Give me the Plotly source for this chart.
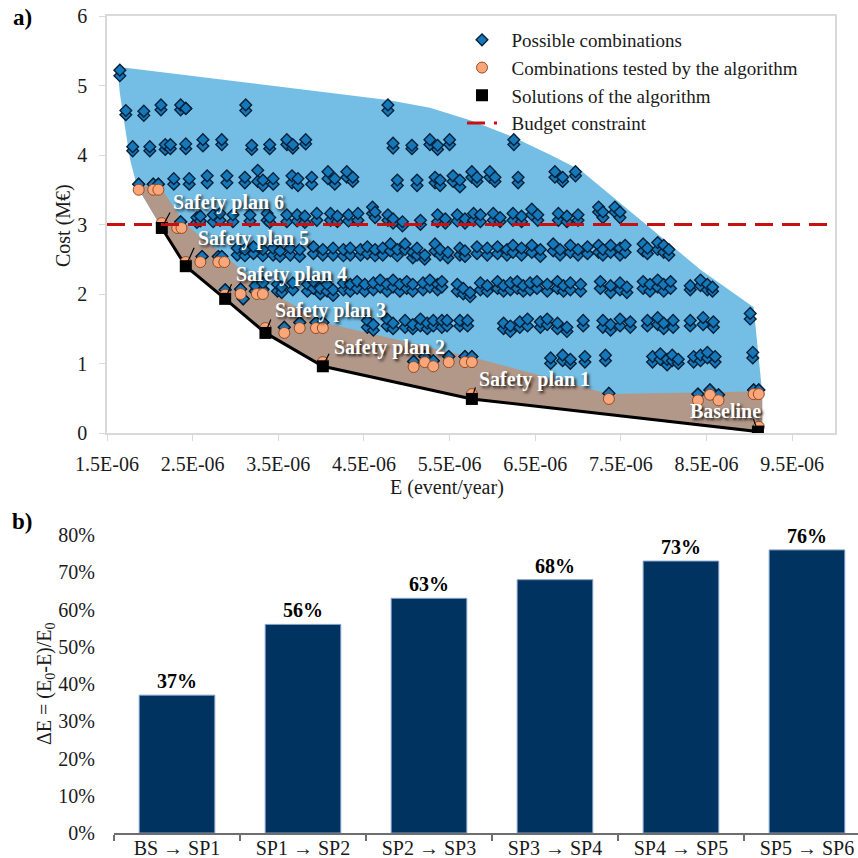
import plotly.graph_objects as go

FONT = "Liberation Serif"
E_UNIT = 1e-6  # E values below are written in units of 1E-06 event/year

# ---------------- panel a) data ----------------
x_ticks = [1.5, 2.5, 3.5, 4.5, 5.5, 6.5, 7.5, 8.5, 9.5]
x_tick_labels = ["1.5E-06", "2.5E-06", "3.5E-06", "4.5E-06", "5.5E-06",
                 "6.5E-06", "7.5E-06", "8.5E-06", "9.5E-06"]
x_range = [1.5, 10.0]
y_ticks = [0, 1, 2, 3, 4, 5, 6]
y_range = [0, 6]
budget = 3.0

# stacks of possible combinations: (E, cost of upper marker, cost of lower marker)
row_5_2 = [(1.65, 5.22, 5.14)]
row_4_6 = [(1.72, 4.64, 4.58), (1.93, 4.63, 4.57), (2.13, 4.72, 4.65), (2.36, 4.72, 4.65),
           (2.42, 4.67, 4.67), (3.12, 4.72, 4.64), (4.78, 4.72, 4.64)]
row_4_1 = [(1.80, 4.12, 4.06), (2.00, 4.12, 4.06), (2.18, 4.15, 4.08), (2.24, 4.15, 4.09),
           (2.42, 4.16, 4.09), (2.62, 4.22, 4.13), (2.84, 4.22, 4.15), (3.19, 4.14, 4.08),
           (3.40, 4.15, 4.09), (3.60, 4.22, 4.15), (3.67, 4.15, 4.10), (3.82, 4.22, 4.16),
           (4.84, 4.17, 4.10), (5.06, 4.14, 4.09), (5.27, 4.22, 4.15), (5.36, 4.14, 4.08),
           (5.50, 4.22, 4.15), (6.25, 4.22, 4.15)]
row_3_6 = [(1.87, 3.58, 3.58), (2.04, 3.58, 3.58), (2.10, 3.58, 3.58),
           (2.28, 3.66, 3.58), (2.46, 3.66, 3.58), (2.67, 3.70, 3.60), (2.90, 3.70, 3.60),
           (3.11, 3.68, 3.60), (3.26, 3.78, 3.62), (3.32, 3.64, 3.56), (3.44, 3.66, 3.58),
           (3.66, 3.70, 3.60), (3.73, 3.66, 3.56), (3.89, 3.68, 3.58), (4.08, 3.76, 3.66),
           (4.16, 3.66, 3.58), (4.30, 3.76, 3.68), (4.37, 3.68, 3.62), (4.89, 3.64, 3.56),
           (5.12, 3.64, 3.56), (5.33, 3.68, 3.60), (5.39, 3.64, 3.56), (5.54, 3.70, 3.62),
           (5.62, 3.64, 3.54), (5.76, 3.76, 3.68), (5.82, 3.68, 3.62), (5.97, 3.76, 3.68),
           (6.03, 3.68, 3.62), (6.30, 3.68, 3.60), (6.73, 3.76, 3.68), (6.82, 3.68, 3.62),
           (6.97, 3.76, 3.70)]
row_3_1 = [(2.36, 3.04, 3.04), (2.55, 3.10, 3.03), (2.59, 3.12, 3.05), (2.74, 3.14, 3.04),
           (2.82, 3.16, 3.06), (2.97, 3.14, 3.04), (3.17, 3.14, 3.05), (3.37, 3.16, 3.06),
           (3.40, 3.10, 3.03), (3.60, 3.14, 3.04), (3.72, 3.14, 3.05), (3.81, 3.12, 3.03),
           (3.95, 3.16, 3.06), (4.11, 3.16, 3.06), (4.19, 3.12, 3.04), (4.32, 3.14, 3.05),
           (4.43, 3.16, 3.06), (4.60, 3.25, 3.16), (4.63, 3.18, 3.10), (4.78, 3.14, 3.06),
           (4.84, 3.08, 3.02), (4.95, 3.04, 2.98), (5.16, 3.06, 3.00), (5.36, 3.14, 3.04),
           (5.45, 3.08, 3.02), (5.59, 3.14, 3.05), (5.68, 3.08, 3.02), (5.78, 3.16, 3.06),
           (5.86, 3.14, 3.04), (6.01, 3.16, 3.06), (6.09, 3.10, 3.04), (6.24, 3.16, 3.06),
           (6.34, 3.12, 3.04), (6.46, 3.22, 3.14), (6.53, 3.14, 3.06), (6.77, 3.16, 3.06),
           (6.87, 3.12, 3.04), (7.00, 3.14, 3.06), (7.24, 3.25, 3.18), (7.29, 3.18, 3.10),
           (7.43, 3.25, 3.18), (7.49, 3.18, 3.10)]
row_2_6 = [(2.61, 2.54, 2.54), (2.80, 2.54, 2.54), (2.84, 2.54, 2.54),
           (3.02, 2.66, 2.56), (3.11, 2.64, 2.55), (3.21, 2.68, 2.58), (3.32, 2.64, 2.55),
           (3.44, 2.66, 2.56), (3.52, 2.62, 2.54), (3.64, 2.66, 2.56), (3.75, 2.64, 2.54),
           (3.91, 2.68, 2.58), (4.02, 2.64, 2.56), (4.14, 2.66, 2.56), (4.26, 2.64, 2.55),
           (4.34, 2.66, 2.56), (4.46, 2.64, 2.56), (4.54, 2.68, 2.58), (4.63, 2.64, 2.55),
           (4.72, 2.66, 2.56), (4.81, 2.72, 2.62), (4.89, 2.64, 2.55), (4.98, 2.72, 2.64),
           (5.07, 2.60, 2.52), (5.12, 2.66, 2.56), (5.21, 2.56, 2.50), (5.33, 2.72, 2.62),
           (5.39, 2.64, 2.56), (5.48, 2.60, 2.52), (5.62, 2.66, 2.56), (5.68, 2.62, 2.54),
           (5.82, 2.68, 2.58), (5.94, 2.66, 2.56), (6.06, 2.68, 2.58), (6.17, 2.64, 2.56),
           (6.24, 2.70, 2.60), (6.34, 2.66, 2.56), (6.46, 2.70, 2.60), (6.56, 2.64, 2.54),
           (6.71, 2.72, 2.62), (6.79, 2.64, 2.56), (6.91, 2.70, 2.60), (7.00, 2.64, 2.56),
           (7.11, 2.68, 2.58), (7.24, 2.70, 2.60), (7.29, 2.64, 2.56), (7.38, 2.70, 2.60),
           (7.49, 2.66, 2.56), (7.55, 2.70, 2.60), (7.76, 2.72, 2.62), (7.81, 2.66, 2.58),
           (7.93, 2.74, 2.64), (8.00, 2.70, 2.60), (8.06, 2.64, 2.56)]
row_2_1 = [(2.88, 2.06, 2.06), (3.06, 2.07, 2.07), (3.09, 1.93, 1.93), (3.25, 2.07, 2.07),
           (3.32, 2.07, 2.07),
           (3.23, 2.12, 2.04), (3.32, 2.16, 2.06), (3.49, 2.14, 2.04), (3.54, 2.10, 2.02),
           (3.67, 2.16, 2.06), (3.84, 2.14, 2.04), (3.91, 2.18, 2.08), (3.99, 2.08, 2.00),
           (4.07, 2.14, 2.04), (4.14, 2.06, 1.98), (4.26, 2.16, 2.06), (4.34, 2.14, 2.04),
           (4.42, 2.18, 2.08), (4.51, 2.14, 2.04), (4.61, 2.16, 2.06), (4.69, 2.20, 2.10),
           (4.77, 2.14, 2.04), (4.84, 2.20, 2.10), (4.92, 2.14, 2.04), (5.00, 2.18, 2.08),
           (5.07, 2.14, 2.04), (5.19, 2.16, 2.06), (5.27, 2.20, 2.10), (5.36, 2.14, 2.06),
           (5.41, 2.18, 2.10), (5.59, 2.14, 2.04), (5.66, 2.08, 2.00), (5.74, 2.02, 1.96),
           (5.86, 2.16, 2.06), (5.94, 2.12, 2.04), (6.06, 2.18, 2.08), (6.13, 2.12, 2.04),
           (6.21, 2.16, 2.06), (6.29, 2.18, 2.08), (6.36, 2.12, 2.04), (6.44, 2.16, 2.06),
           (6.52, 2.18, 2.08), (6.64, 2.14, 2.04), (6.76, 2.18, 2.08), (6.83, 2.12, 2.04),
           (6.91, 2.16, 2.06), (7.03, 2.14, 2.04), (7.26, 2.18, 2.08), (7.38, 2.12, 2.02),
           (7.49, 2.16, 2.06), (7.57, 2.10, 2.02), (7.76, 2.18, 2.08), (7.84, 2.14, 2.04),
           (7.93, 2.20, 2.10), (8.00, 2.14, 2.04), (8.08, 2.18, 2.08), (8.31, 2.12, 2.06),
           (8.43, 2.20, 2.12), (8.51, 2.14, 2.06), (8.57, 2.10, 2.04)]
row_1_6 = [(3.57, 1.52, 1.52), (3.75, 1.59, 1.59), (3.94, 1.59, 1.59), (4.02, 1.59, 1.59),
           (4.54, 1.62, 1.52), (4.61, 1.56, 1.48), (4.77, 1.64, 1.54), (4.84, 1.58, 1.50),
           (4.98, 1.62, 1.52), (5.07, 1.56, 1.50), (5.16, 1.64, 1.54), (5.24, 1.58, 1.50),
           (5.31, 1.62, 1.54), (5.41, 1.62, 1.52), (5.47, 1.62, 1.54), (5.62, 1.62, 1.54),
           (5.71, 1.62, 1.54), (6.13, 1.58, 1.50), (6.21, 1.54, 1.46), (6.32, 1.60, 1.52),
           (6.41, 1.64, 1.54), (6.56, 1.60, 1.52), (6.64, 1.64, 1.56), (6.76, 1.58, 1.50),
           (6.87, 1.52, 1.46), (7.06, 1.62, 1.54), (7.29, 1.62, 1.52), (7.38, 1.56, 1.48),
           (7.49, 1.64, 1.54), (7.61, 1.60, 1.52), (7.81, 1.62, 1.54), (7.93, 1.66, 1.56),
           (8.00, 1.58, 1.50), (8.11, 1.62, 1.52), (8.31, 1.62, 1.54), (8.46, 1.66, 1.56),
           (8.58, 1.60, 1.52), (9.01, 1.72, 1.64)]
row_1_0 = [(5.08, 1.03, 1.03), (5.21, 1.10, 1.10), (5.31, 1.04, 1.04), (5.49, 1.10, 1.10),
           (5.68, 1.10, 1.10), (5.76, 1.10, 1.10),
           (6.68, 1.08, 1.00), (6.82, 1.12, 1.04), (6.91, 1.06, 1.00), (7.08, 1.10, 1.02),
           (7.32, 1.12, 1.04), (7.87, 1.10, 1.02), (7.96, 1.14, 1.06), (8.04, 1.06, 0.98),
           (8.10, 1.12, 1.04), (8.17, 1.06, 1.00), (8.35, 1.10, 1.02), (8.43, 1.12, 1.04),
           (8.51, 1.16, 1.08), (8.60, 1.10, 1.02), (9.04, 1.16, 1.08)]
row_0_5 = [(7.36, 0.57, 0.57), (8.40, 0.56, 0.56), (8.54, 0.62, 0.62), (8.64, 0.55, 0.55),
           (9.05, 0.62, 0.62), (9.11, 0.62, 0.62)]
possible_rows = [row_5_2, row_4_6, row_4_1, row_3_6, row_3_1, row_2_6,
                 row_2_1, row_1_6, row_1_0, row_0_5]

tested_E = [1.87, 2.04, 2.10, 2.14, 2.32, 2.37, 2.42, 2.59, 2.80, 2.87,
            2.88, 3.06, 3.25, 3.32, 3.35, 3.57, 3.75, 3.94, 4.02,
            4.02, 5.08, 5.21, 5.31, 5.49, 5.68, 5.76,
            5.76, 7.36, 8.40, 8.54, 8.64, 9.05, 9.11, 9.11]
tested_cost = [3.50, 3.50, 3.50, 3.02, 2.95, 2.95, 2.46, 2.46, 2.46, 2.46,
               1.99, 2.00, 2.00, 2.00, 1.51, 1.44, 1.51, 1.51, 1.51,
               1.02, 0.95, 1.02, 0.96, 1.02, 1.02, 1.02,
               0.56, 0.49, 0.47, 0.55, 0.47, 0.56, 0.56, 0.09]

solution_E = [9.10, 5.76, 4.02, 3.35, 2.88, 2.42, 2.14]
solution_cost = [0.02, 0.49, 0.96, 1.44, 1.93, 2.40, 2.95]
solution_labels = ["Baseline", "Safety plan 1", "Safety plan 2", "Safety plan 3",
                   "Safety plan 4", "Safety plan 5", "Safety plan 6"]

# outline of the space of possible combinations (closed by the solution front)
blue_edge_E = [1.85, 1.77, 1.71, 1.65, 1.62, 4.78, 5.27, 5.74, 6.24, 6.68, 7.03,
               7.49, 8.00, 8.43, 9.05, 9.11, 9.15, 9.15]
blue_edge_cost = [3.55, 3.93, 4.40, 4.89, 5.27, 4.79, 4.68, 4.50, 4.26, 4.00, 3.78,
                  3.31, 2.78, 2.35, 1.81, 1.01, 0.58, 0.02]
# upper outline of the region explored by the algorithm
brown_edge_E = [1.85, 2.12, 2.40, 2.90, 3.36, 4.06, 5.80, 7.36, 9.15, 9.15]
brown_edge_cost = [3.55, 3.55, 3.02, 2.52, 2.06, 1.58, 1.08, 0.56, 0.60, 0.02]

# ---------------- panel b) data ----------------
bar_categories = ["BS → SP1", "SP1 → SP2", "SP2 → SP3",
                  "SP3 → SP4", "SP4 → SP5", "SP5 → SP6"]
bar_values = [0.37, 0.56, 0.63, 0.68, 0.73, 0.76]
bar_y_range = [0, 0.8]

# ---------------- styling / label placement (pixels) ----------------
W = H = 858
label_text_shift = [(-32, 21), (63, 19), (67, 19), (65, 22), (66, 24), (68, 28), (67, 25)]
label_arrow_tail = [(-5, -14), (4, -13), (7, -14), (6, -15), (7, -16), (9, -20), (9, -17)]

TXT = "#1a1a1a"
GRAYLINE = "#D9D9D9"
PAD = "\u00a0\u00a0"  # small gap between legend symbols and their text


def sc(vals):
    return [v * E_UNIT for v in vals]


poss_E, poss_cost = [], []
for row in possible_rows:
    for e, c_top, c_bot in row:
        poss_E += [e, e]
        poss_cost += [c_bot, c_top]

fig = go.Figure()

fig.add_trace(go.Scatter(
    x=sc(blue_edge_E + solution_E), y=blue_edge_cost + solution_cost,
    fill="toself", fillcolor="rgb(116,190,230)", mode="lines", line=dict(width=0),
    hoverinfo="skip", showlegend=False, xaxis="x", yaxis="y"))
fig.add_trace(go.Scatter(
    x=sc(brown_edge_E + solution_E), y=brown_edge_cost + solution_cost,
    fill="toself", fillcolor="rgb(178,152,137)", mode="lines", line=dict(width=0),
    hoverinfo="skip", showlegend=False, xaxis="x", yaxis="y"))
fig.add_trace(go.Scatter(
    x=sc(solution_E), y=solution_cost, mode="lines",
    line=dict(color="black", width=3), showlegend=False, hoverinfo="skip"))
fig.add_trace(go.Scatter(
    x=sc(poss_E), y=poss_cost, mode="markers", name=PAD + "Possible combinations",
    marker=dict(symbol="diamond", size=9, color="rgb(20,120,186)",
                line=dict(color="rgb(8,32,55)", width=1.4))))
fig.add_trace(go.Scatter(
    x=sc(tested_E), y=tested_cost, mode="markers",
    name=PAD + "Combinations tested by the algorithm",
    marker=dict(symbol="circle", size=11, color="rgb(248,166,122)",
                line=dict(color="rgb(150,75,35)", width=1))))
fig.add_trace(go.Scatter(
    x=sc(solution_E), y=solution_cost, mode="markers",
    name=PAD + "Solutions of the algorithm",
    marker=dict(symbol="square", size=12, color="black")))
fig.add_trace(go.Scatter(
    x=sc(x_range), y=[budget, budget], mode="lines", name=PAD + "Budget constraint",
    line=dict(color="rgb(200,16,16)", width=3, dash="18px,9px")))

fig.add_trace(go.Bar(
    x=bar_categories, y=bar_values, xaxis="x2", yaxis="y2", showlegend=False,
    width=0.6,
    marker=dict(color="rgb(0,51,96)", line=dict(color="rgb(130,160,200)", width=1)),
    text=[f"{v:.0%}" for v in bar_values], textposition="outside",
    textfont=dict(family=FONT, size=20, color="black", weight="bold"),
    cliponaxis=False))

ann = []
lab_font = dict(family=FONT, size=20, color="white", shadow="2px 2px 3px rgba(0,0,0,0.85)")
for e, c, lab, (xs, ys), (ax, ay) in zip(solution_E, solution_cost, solution_labels,
                                         label_text_shift, label_arrow_tail):
    ann.append(dict(x=e * E_UNIT, y=c, xref="x", yref="y", text="", showarrow=True,
                    arrowhead=0, arrowwidth=1.2, arrowcolor="black", ax=ax, ay=ay,
                    standoff=5))
    ann.append(dict(x=e * E_UNIT, y=c, xref="x", yref="y", text=f"<b>{lab}</b>",
                    showarrow=False, xshift=xs, yshift=ys, font=lab_font,
                    xanchor="center", yanchor="middle"))

ctr = dict(xref="paper", yref="paper", showarrow=False, xanchor="center", yanchor="middle")
ann += [
    dict(x=22 / W, y=1 - 18 / H, text="<b>a)</b>",
         font=dict(family=FONT, size=23, color="black"), **ctr),
    dict(x=22 / W, y=1 - 521 / H, text="<b>b)</b>",
         font=dict(family=FONT, size=23, color="black"), **ctr),
    dict(x=447 / W, y=1 - 487 / H, text="E (event/year)",
         font=dict(family=FONT, size=20, color=TXT), **ctr),
    dict(x=63 / W, y=1 - 226 / H, text="Cost (M€)", textangle=-90,
         font=dict(family=FONT, size=20, color=TXT), **ctr),
    dict(x=45 / W, y=1 - 684 / H, text="ΔE = (E<sub>0</sub>-E)/E<sub>0</sub>",
         textangle=-90, font=dict(family=FONT, size=20, color=TXT), **ctr),
]

axis_a = dict(showline=True, mirror=True, linecolor=GRAYLINE, linewidth=1.5,
              ticks="outside", ticklen=6, tickcolor=GRAYLINE, showgrid=False,
              zeroline=False, automargin=False,
              tickfont=dict(family=FONT, size=20, color=TXT))

fig.update_layout(
    width=W, height=H, margin=dict(l=0, r=0, t=0, b=0, autoexpand=False),
    paper_bgcolor="white", plot_bgcolor="white",
    font=dict(family=FONT, size=20, color=TXT),
    xaxis=dict(domain=[107 / W, 835 / W], range=sc(x_range), tickvals=sc(x_ticks),
               ticktext=x_tick_labels, anchor="y", ticklabelstandoff=6, **axis_a),
    yaxis=dict(domain=[1 - 433 / H, 1 - 16 / H], range=y_range, tickvals=y_ticks,
               anchor="x", ticklabelstandoff=8, **axis_a),
    xaxis2=dict(domain=[114 / W, 1.0], range=[-0.5, 5.405], anchor="y2",
                showline=True, linecolor="rgb(110,110,110)", linewidth=2,
                ticks="outside", tickson="boundaries", ticklen=6,
                tickcolor="rgb(110,110,110)", tickwidth=2, showgrid=False,
                automargin=False, ticklabelstandoff=-4,
                tickfont=dict(family=FONT, size=20, color=TXT)),
    yaxis2=dict(domain=[1 - 833 / H, 1 - 535 / H], range=bar_y_range, dtick=0.1,
                tickformat=".0%", anchor="x2", showline=False, showgrid=False,
                zeroline=False, ticks="", ticklabelstandoff=18, automargin=False,
                tickfont=dict(family=FONT, size=20, color=TXT)),
    legend=dict(x=462 / W, y=1 - 21 / H, xanchor="left", yanchor="top",
                bgcolor="rgba(0,0,0,0)", itemwidth=30,
                font=dict(family=FONT, size=19, color=TXT)),
    annotations=ann,
    bargap=0.4,
)

fig.write_html("out.html", config={"displayModeBar": False},
               post_script="document.body.style.margin='0';")
